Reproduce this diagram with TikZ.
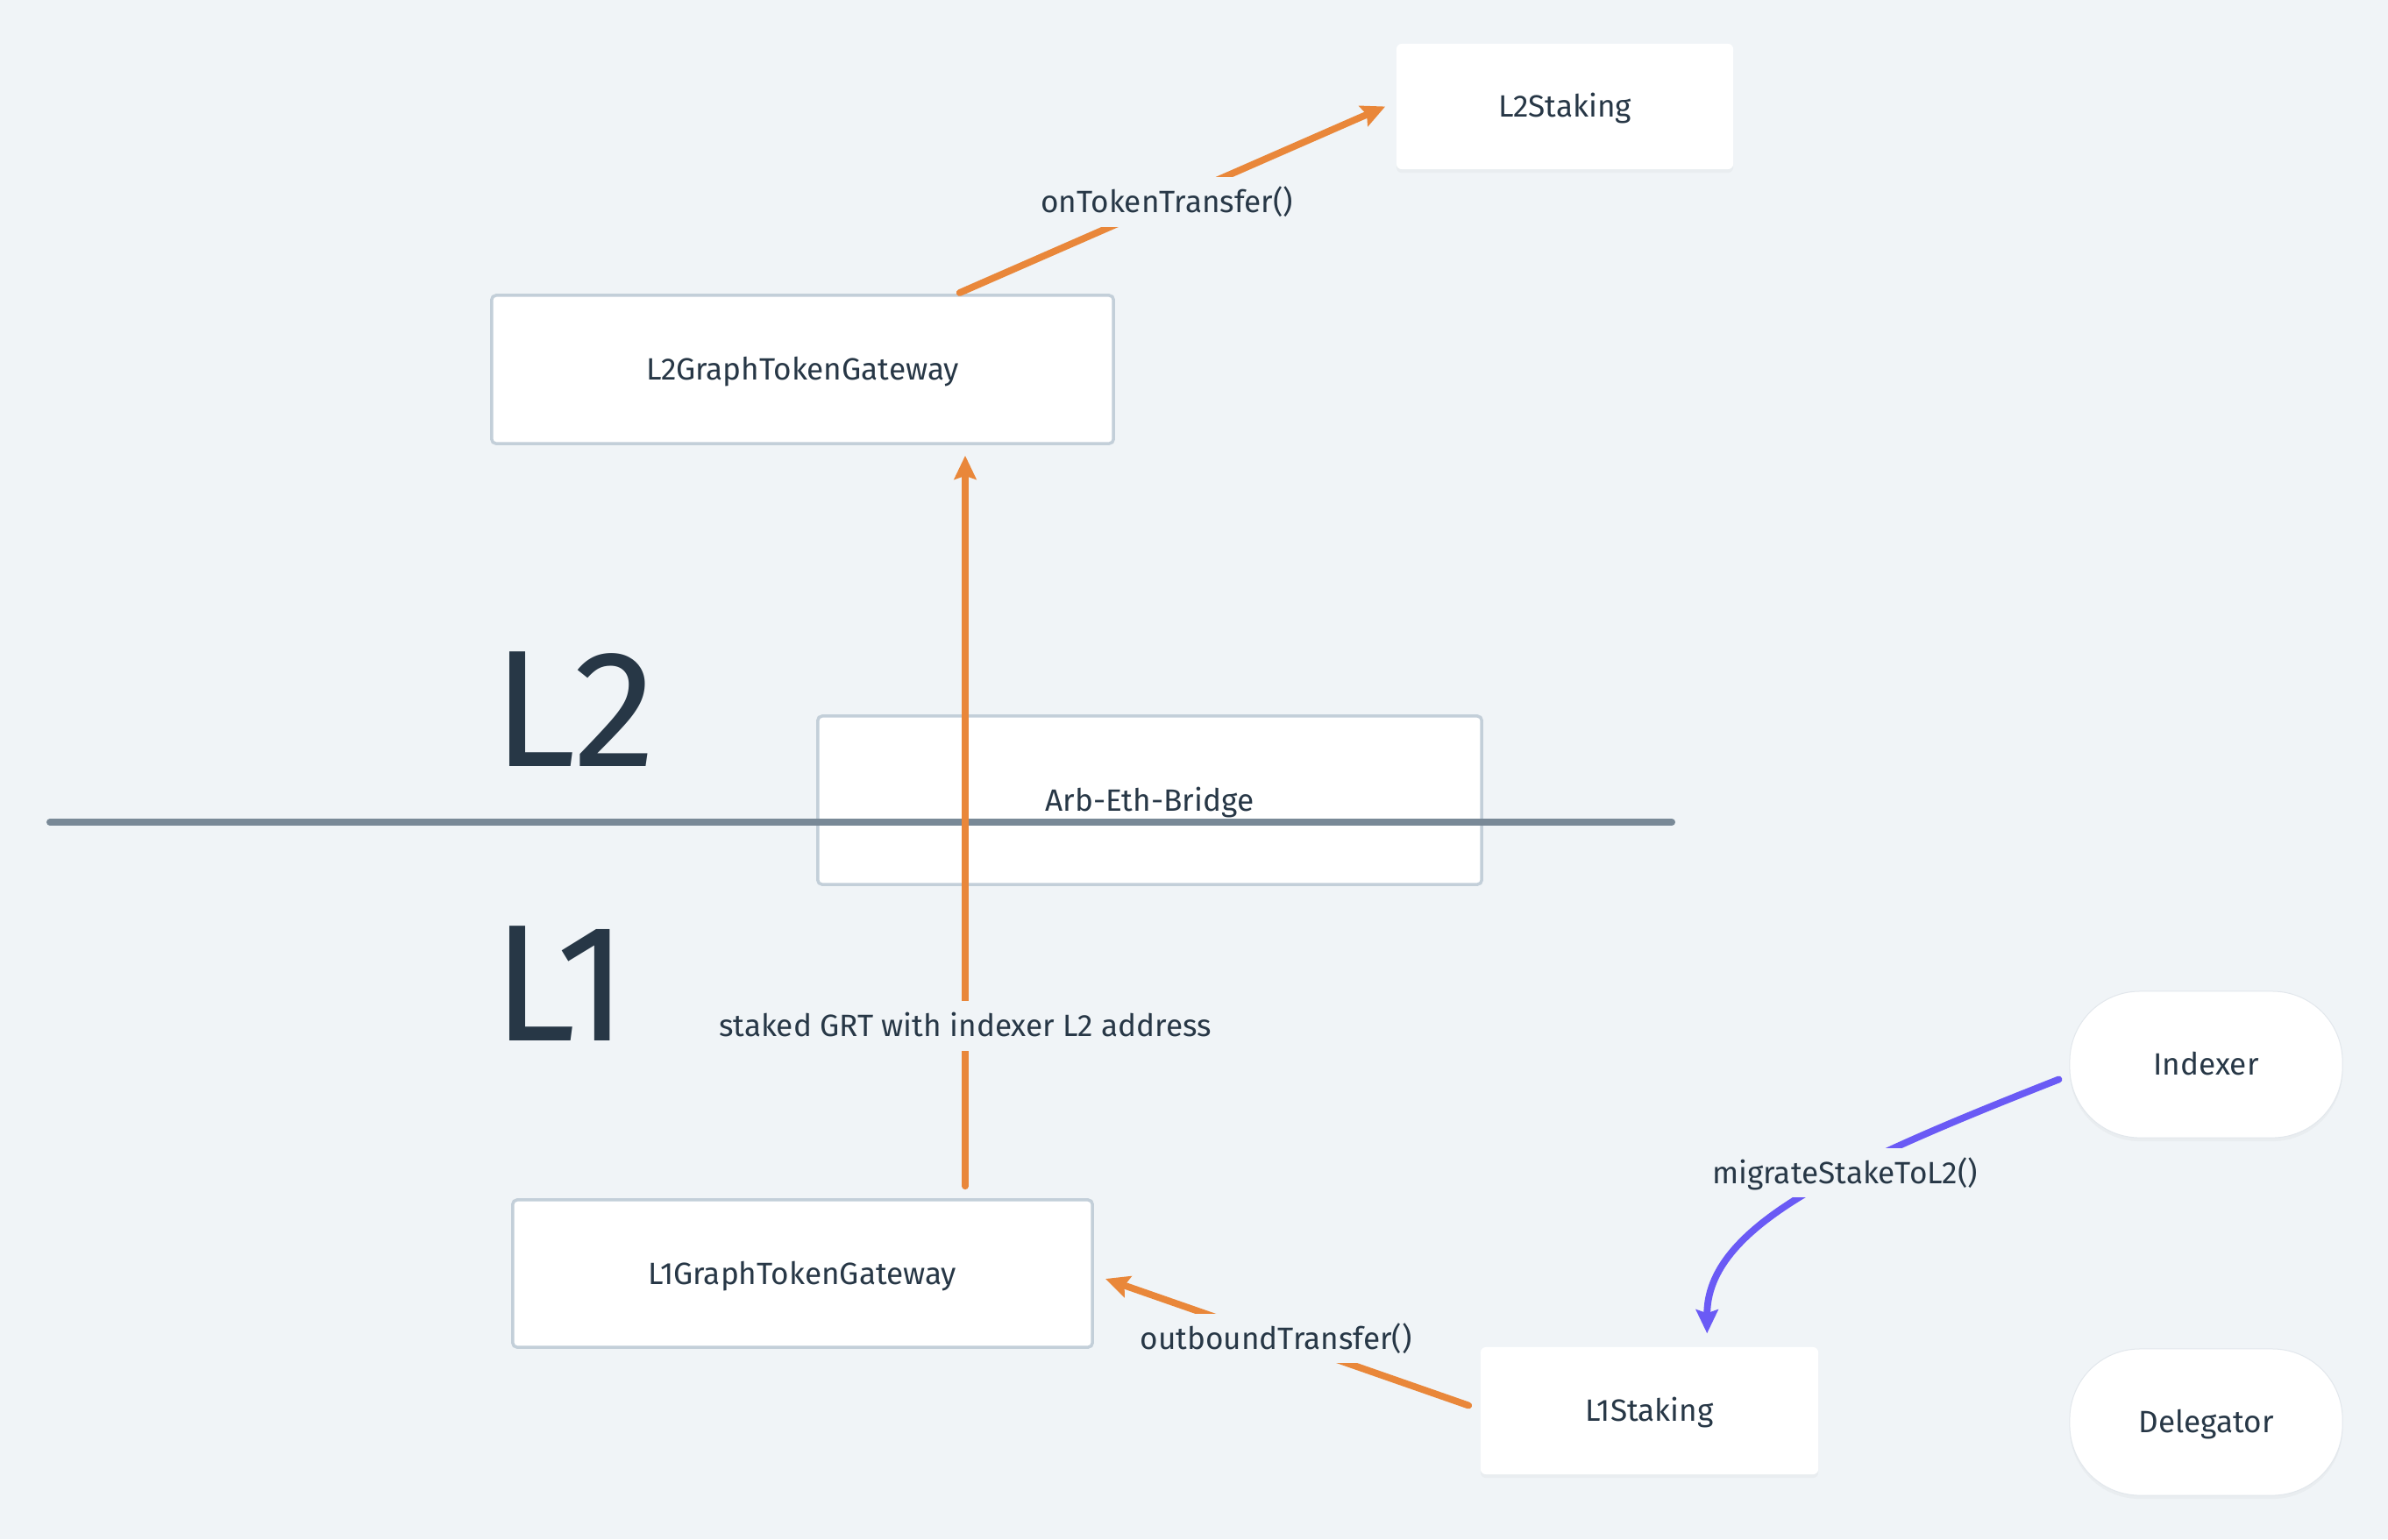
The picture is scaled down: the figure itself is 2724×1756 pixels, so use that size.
\documentclass[tikz,border=0pt]{standalone}
\usepackage{fontspec}
\setmainfont{Fira Sans}
\usetikzlibrary{arrows.meta,calc,shadows}
\definecolor{bg}{RGB}{240,244,247}
\definecolor{ink}{RGB}{39,55,70}
\definecolor{bord}{RGB}{195,207,217}
\definecolor{oline}{RGB}{233,135,58}
\definecolor{pline}{RGB}{106,90,245}
\definecolor{gline}{RGB}{121,137,151}
\definecolor{soft}{RGB}{226,231,236}
\begin{document}
\begin{tikzpicture}[x=0.01cm,y=-0.01cm,
  lblfont/.style={font=\fontsize{10}{12}\selectfont},
  framed/.style={draw=bord, line width=0.035cm, fill=white, rounded corners=0.05cm,
    text=ink, lblfont, text height=6.9pt, text depth=0pt, inner sep=0pt},
  plainbox/.style={fill=white, rounded corners=0.06cm, text=ink, lblfont,
    text height=6.9pt, text depth=0pt, inner sep=0pt,
    drop shadow={shadow xshift=0cm, shadow yshift=-0.04cm, opacity=0.06}},
  actor/.style={fill=white, draw=soft, line width=0.01cm, rounded corners=0.8cm, text=ink, lblfont,
    text height=6.9pt, text depth=0pt, inner sep=0pt,
    drop shadow={shadow xshift=0cm, shadow yshift=-0.04cm, opacity=0.06}},
  elabel/.style={fill=bg, text=ink, lblfont, inner sep=3pt, text height=8.5pt, text depth=1.6pt},
  layer/.style={text=ink, font=\fontsize{54}{60}\selectfont, anchor=base west, inner sep=0pt},
  oarrow/.style={draw=oline, line width=0.078cm, line cap=round,
    -{Stealth[length=0.27cm,width=0.25cm,inset=0.04cm]}},
  parrow/.style={draw=pline, line width=0.078cm, line cap=round,
    -{Stealth[length=0.27cm,width=0.25cm,inset=0.04cm]}}
]
\useasboundingbox[fill=bg] (0,0) rectangle (2724,1756);

% nodes
\node[plainbox, minimum width=3.84cm, minimum height=1.43cm] (l2st) at (1785,121.5) {L2Staking};
\node[framed, minimum width=7.09cm, minimum height=1.69cm] (l2gtg) at (915.5,421.5) {L2GraphTokenGateway};
\node[framed, minimum width=7.57cm, minimum height=1.92cm] (bridge) at (1311.5,913) {Arb-Eth-Bridge};
\node[framed, minimum width=6.61cm, minimum height=1.68cm] (l1gtg) at (915.5,1453) {L1GraphTokenGateway};
\node[plainbox, minimum width=3.85cm, minimum height=1.45cm] (l1st) at (1881.5,1609.5) {L1Staking};
\node[actor, minimum width=3.11cm, minimum height=1.67cm] (idx) at (2516.5,1214.5) {Indexer};
\node[actor, minimum width=3.11cm, minimum height=1.67cm] (dlg) at (2516.5,1622.5) {Delegator};

% layer labels
\node[layer] (tl2) at (562,874) {L2};
\node[layer] (tl1) at (562,1187) {L1};

% divider
\coordinate (dl) at (57,938);
\coordinate (dr) at (1907,938);
\draw[gline, line width=0.08cm, line cap=round] (dl) -- (dr);

% connectors
\coordinate (vs) at ($(l1gtg.north west)!0.779!(l1gtg.north east)$);
\draw[oarrow, shorten <=0.14cm, shorten >=0.12cm] (vs) -- node[elabel, pos=0.229] {staked GRT with indexer L2 address} (vs |- l2gtg.south);

\draw[oarrow, shorten <=0.03cm] ($(l2gtg.north west)!0.7475!(l2gtg.north east)$) -- node[elabel, pos=0.49] {onTokenTransfer()} ([xshift=-0.12cm]l2st.west);

\draw[oarrow] ([shift={(-13,-6)}]l1st.west) -- node[elabel, pos=0.53] {outboundTransfer()} ([xshift=0.13cm, yshift=-0.06cm]l1gtg.east);

\coordinate (pa) at ([shift={(-12,17)}]idx.west);
\coordinate (pb) at ([shift={(0,-15)}]$(l1st.north west)!0.67!(l1st.north east)$);
\draw[parrow] (pa) .. controls +(-249,98) and +(0,-122) .. node[elabel, pos=0.39] {migrateStakeToL2()} (pb);
\end{tikzpicture}
\end{document}
